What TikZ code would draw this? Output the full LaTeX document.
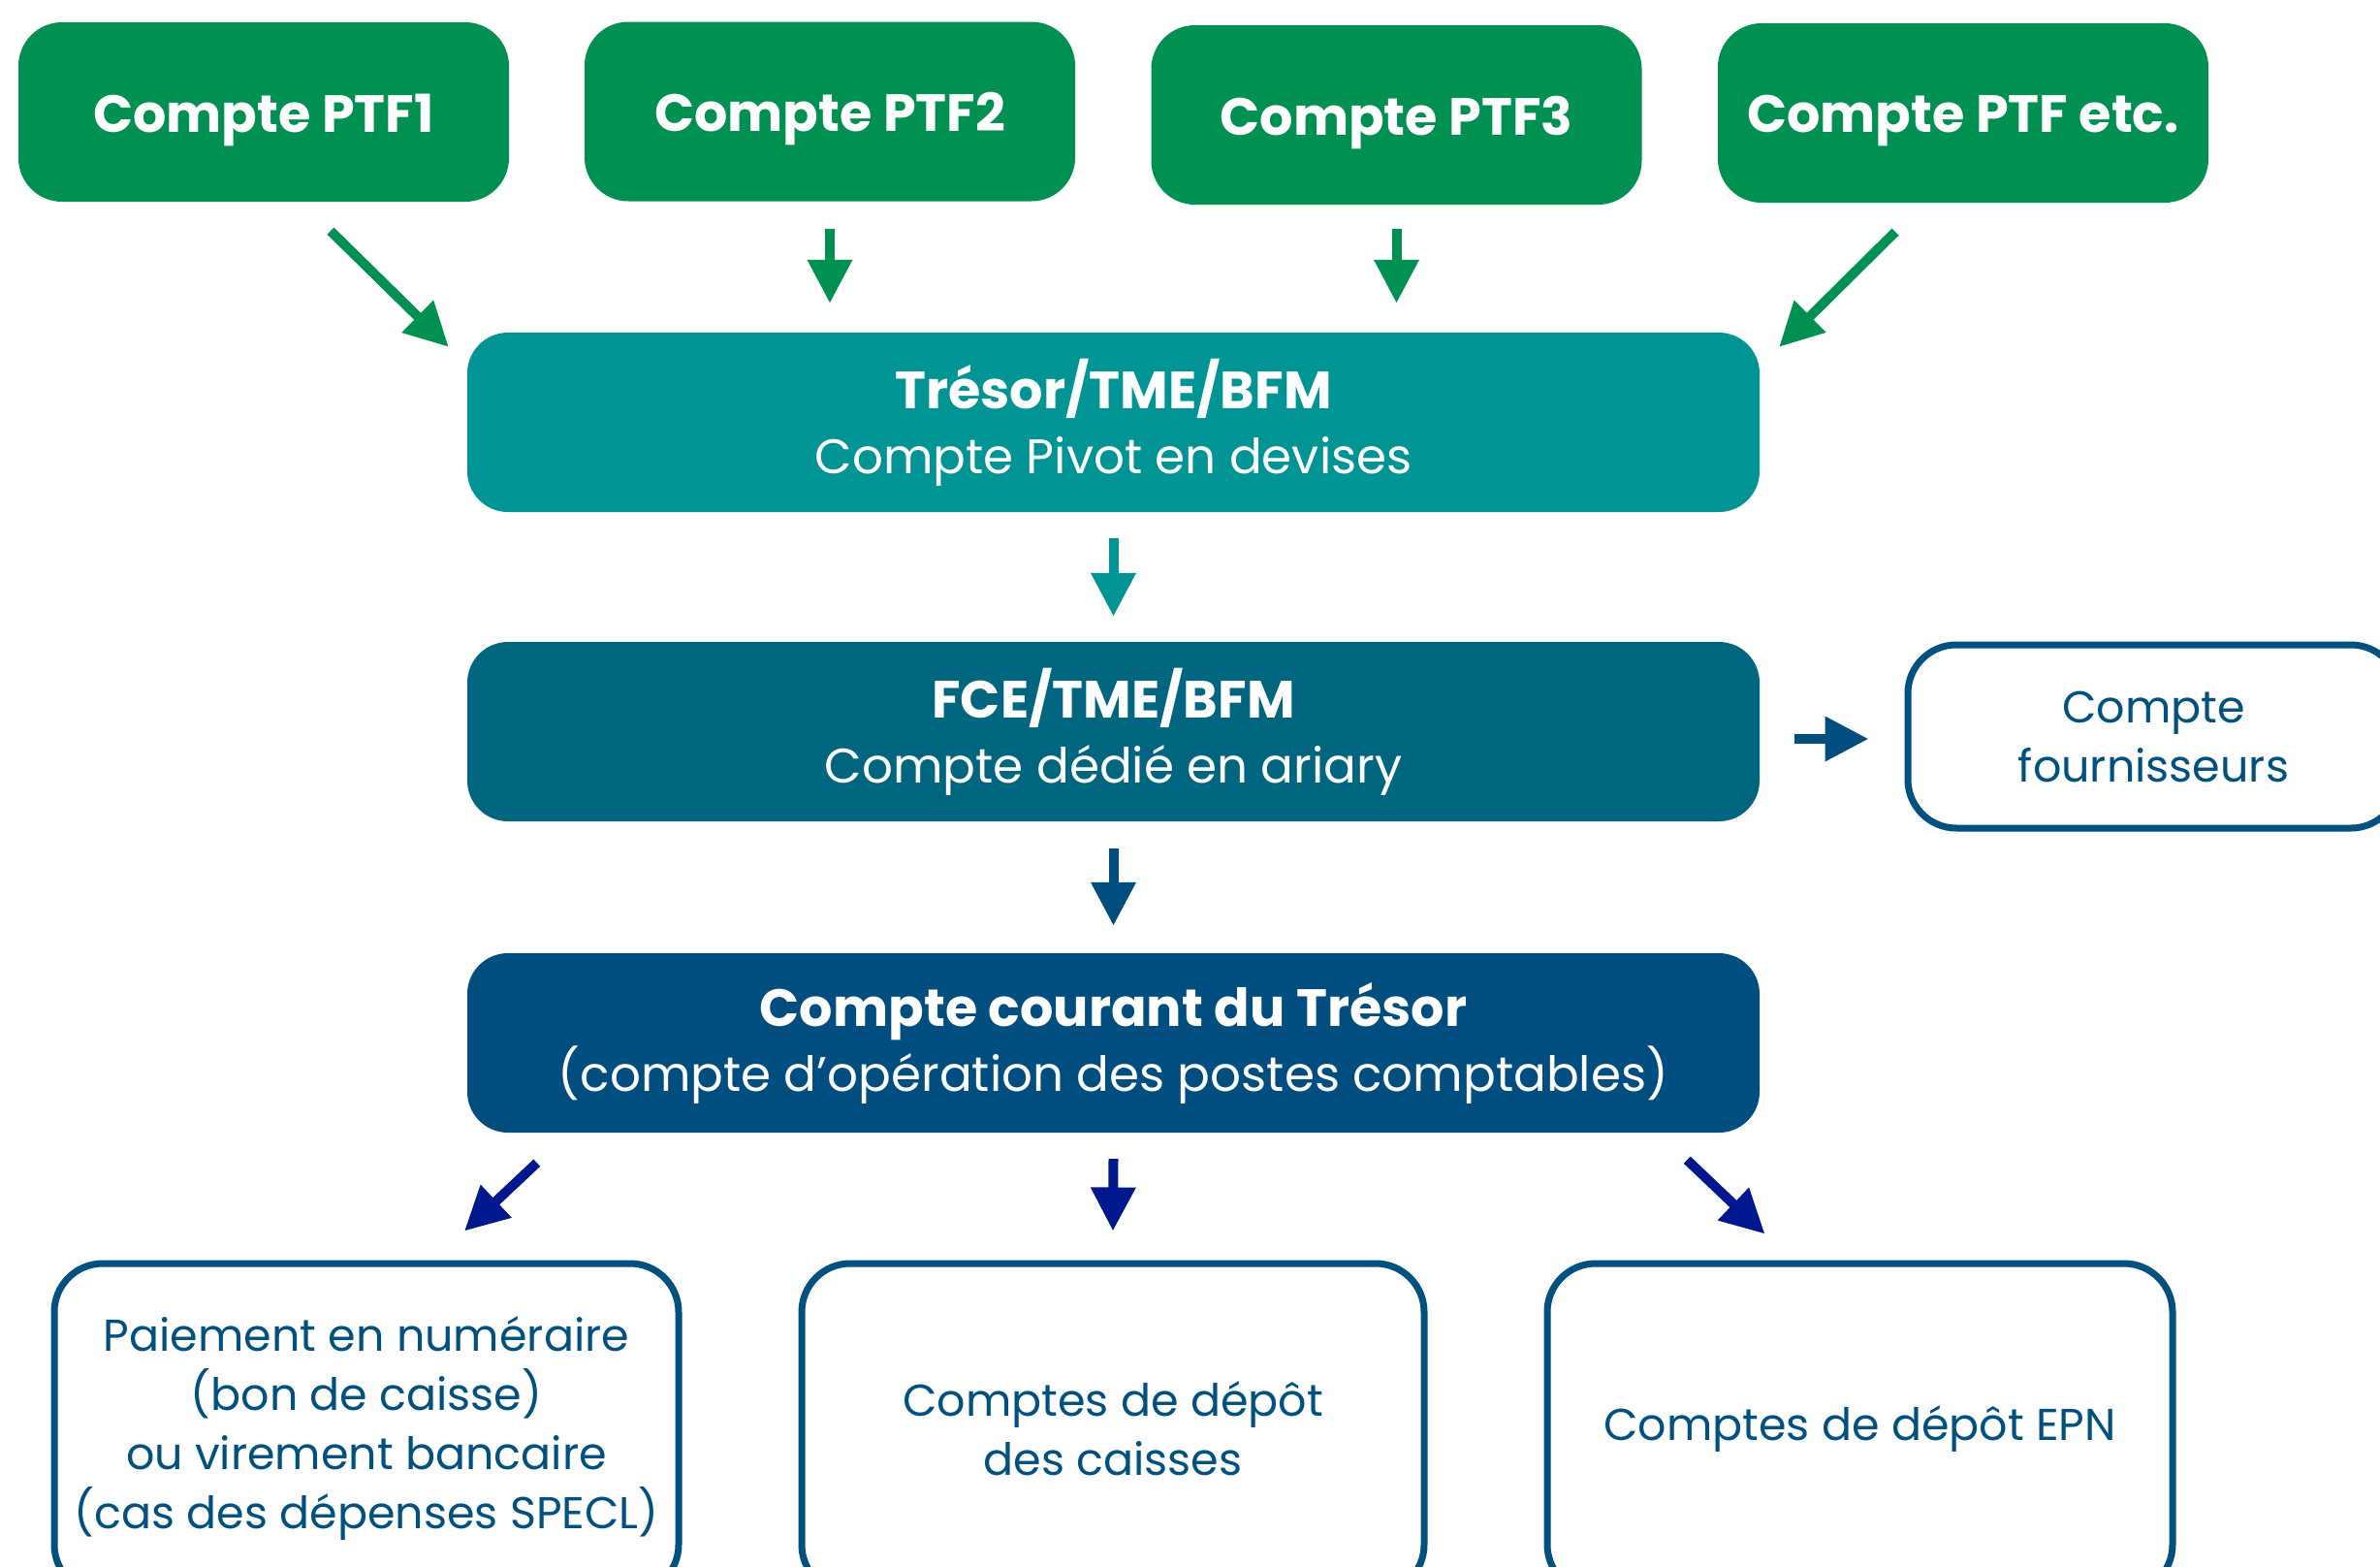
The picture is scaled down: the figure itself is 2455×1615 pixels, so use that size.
\documentclass[tikz,border=0pt]{standalone}
\usepackage{fontspec}
\setmainfont{Poppins}
\usetikzlibrary{arrows.meta,calc}
\definecolor{cgreen}{RGB}{0,144,81}
\definecolor{cteal}{RGB}{0,148,148}
\definecolor{cfce}{RGB}{0,102,128}
\definecolor{ccc}{RGB}{0,78,127}
\definecolor{cbord}{RGB}{0,80,128}
\definecolor{cnavy}{RGB}{0,24,143}
\newcommand{\topdown}[1]{\raisebox{-8pt}[\height][\depth]{#1}}
\tikzset{
  topbox/.style={fill=cgreen, rounded corners=45pt, minimum width=506pt, minimum height=185pt, inner sep=0pt, text=white, font=\fontsize{54}{60}\selectfont\bfseries},
  midbox/.style={rounded corners=42pt, minimum width=1333pt, minimum height=185pt, inner sep=0pt, text=white, align=center, font=\fontsize{50}{67}\selectfont},
  outbox/.style={draw=cbord, line width=7pt, fill=white, rounded corners=50pt, inner sep=0pt, text=cbord, align=center, font=\fontsize{46}{61}\selectfont},
  arr/.style={line width=10pt, -{Triangle[length=45pt,width=44pt]}},
}
\begin{document}
\begin{tikzpicture}[x=1pt,y=-1pt]
\useasboundingbox (0,0) rectangle (2455,1615);
\fill[white] (0,0) rectangle (2455,1615);
% top boxes
\node[topbox] (p1) at (272,115.5) {\topdown{Compte PTF1}};
\node[topbox] (p2) at (856,115) {\topdown{Compte PTF2}};
\node[topbox] (p3) at (1440.5,118.5) {\topdown{Compte PTF3}};
\node[topbox] (p4) at (2025,116.5) {\topdown{Compte PTF etc.}};
% middle boxes
\node[midbox, fill=cteal] (tre) at (1148.5,435.5) {{\bfseries\fontsize{54}{67}\selectfont Trésor/TME/BFM}\\Compte Pivot en devises};
\node[midbox, fill=cfce] (fce) at (1148.5,754.5) {{\bfseries\fontsize{54}{67}\selectfont FCE/TME/BFM}\\Compte dédié en ariary};
\node[midbox, fill=ccc] (cc) at (1148.5,1075.5) {{\bfseries\fontsize{54}{67}\selectfont Compte courant du Trésor}\\(compte d’opération des postes comptables)};
% outline boxes
\node[outbox, minimum width=507pt, minimum height=189pt] (fou) at (2221.5,759.5) {Compte\\fournisseurs};
\node[outbox, minimum width=644pt, minimum height=340pt] (b1) at (378,1473) {Paiement en numéraire\\(bon de caisse)\\ou virement bancaire\\(cas des dépenses SPECL)};
\node[outbox, minimum width=642pt, minimum height=340pt] (b2) at (1148,1473) {Comptes de dépôt\\des caisses};
\node[outbox, minimum width=645pt, minimum height=340pt] (b3) at (1918.5,1473) {Comptes de dépôt EPN};
% arrows
\draw[arr, cgreen] ($(p1.south)+(69,30)$) -- ($(tre.north west)+(-19,15)$);
\draw[arr, cgreen] ($(p2.south)+(0,28)$) -- ($(p2.south|-tre.north)+(0,-30)$);
\draw[arr, cgreen] ($(p3.south)+(0,25)$) -- ($(p3.south|-tre.north)+(0,-30)$);
\draw[arr, cgreen] ($(p4.south)+(-70,30)$) -- ($(tre.north east)+(20,15)$);
\draw[arr, cteal] ($(tre.south)+(0,27)$) -- ($(fce.north)+(0,-26)$);
\draw[arr, ccc] ($(fce.south)+(0,28)$) -- ($(cc.north)+(0,-28)$);
\draw[arr, ccc] ($(fce.east)+(36,7.5)$) -- ($(fce.east-|fou.west)+(-37,7.5)$);
\draw[arr, cnavy] ($(cc.south west)+(72,31)$) -- ($(b1.north)+(101,-30)$);
\draw[arr, cnavy] ($(cc.south)+(0,27)$) -- ($(b2.north)+(0,-30)$);
\draw[arr, cnavy] ($(cc.south east)+(-75,28)$) -- ($(b3.north)+(-98,-27)$);
\end{tikzpicture}
\end{document}
